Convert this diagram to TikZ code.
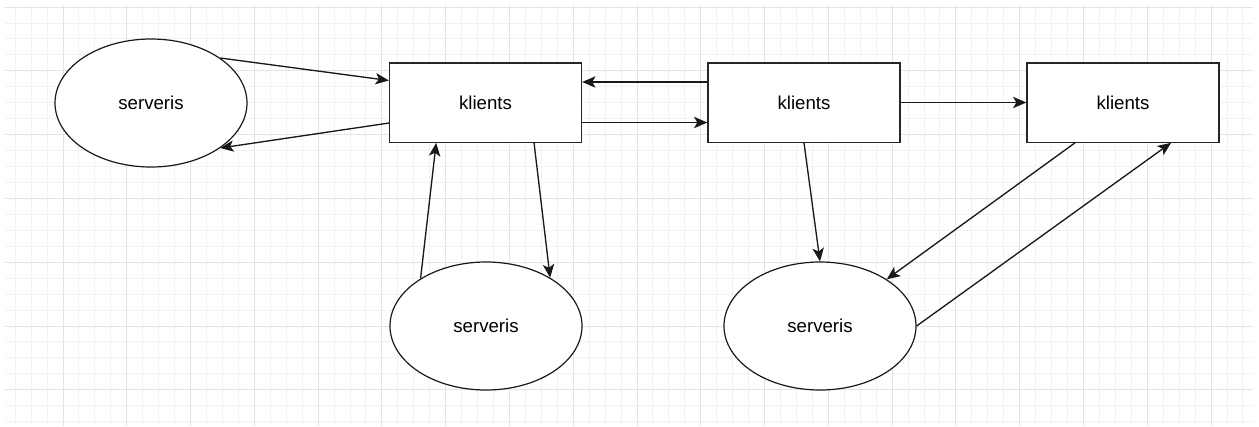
\documentclass[tikz,border=0pt]{standalone}
\usepackage{fontspec}
\setmainfont{Liberation Sans}
\usetikzlibrary{arrows.meta,shapes.geometric,calc}
\begin{document}
\begin{tikzpicture}[x=0.75pt,y=-0.75pt,
  minorgrid/.style={draw=black!5, line width=0.75pt},
  majorgrid/.style={draw=black!11, line width=0.75pt},
  box/.style={draw=black!85, fill=white, line width=1pt, minimum width=144pt, minimum height=59.5pt, inner sep=0pt, font=\fontsize{14}{16}\selectfont},
  oval/.style={ellipse, draw=black!90, fill=white, line width=0.9pt, minimum width=144pt, minimum height=96pt, inner sep=0pt, font=\fontsize{14}{16}\selectfont},
  conn/.style={-{Stealth[length=10pt,width=8.5pt,inset=2.5pt]}, line width=1pt, draw=black!90}]
\useasboundingbox (0,0) rectangle (1259,426);
\fill[white] (0,0) rectangle (1259,426);
% grid
\foreach \k in {-3,...,74} {
  \pgfmathsetmacro\xx{63+\k*15.945}
  \draw[minorgrid] (\xx,5) -- (\xx,426);
}
\foreach \k in {0,...,26} {
  \pgfmathsetmacro\yy{7.1+\k*15.945}
  \draw[minorgrid] (5,\yy) -- (1253,\yy);
}
\foreach \k in {0,...,18} {
  \pgfmathsetmacro\xx{63+\k*63.78}
  \draw[majorgrid] (\xx,5) -- (\xx,426);
}
\foreach \k in {0,...,6} {
  \pgfmathsetmacro\yy{7.1+\k*63.78}
  \draw[majorgrid] (5,\yy) -- (1253,\yy);
}
% nodes
\node[oval] (e1) at (151,103) {serveris};
\node[box] (r1) at (485.5,102.5) {klients};
\node[box] (r2) at (804,102.5) {klients};
\node[box] (r3) at (1123,102.5) {klients};
\node[oval] (e2) at (486,326) {serveris};
\node[oval] (e3) at (820,326) {serveris};
% connectors
\draw[conn] (e1.33) -- ([yshift=16.5pt]r1.west);
\draw[conn] ([yshift=-15.4pt]r1.west) -- (e1.-33);
\draw[conn] ([yshift=15.4pt]r2.west) -- ([yshift=15.4pt]r1.east);
\draw[conn] ([yshift=-15pt]r1.east) -- ([yshift=-15pt]r2.west);
\draw[conn] (r2.east) -- (r3.west);
\draw[conn] (e2.144) -- ([xshift=-37pt]r1.south);
\draw[conn] ([xshift=36.4pt]r1.south) -- (e2.37);
\draw[conn] (r2.south) -- (e3.north);
\draw[conn] ([xshift=-36pt]r3.south) -- (e3.35);
\draw[conn] (e3.east) -- ([xshift=36pt]r3.south);
\end{tikzpicture}
\end{document}
